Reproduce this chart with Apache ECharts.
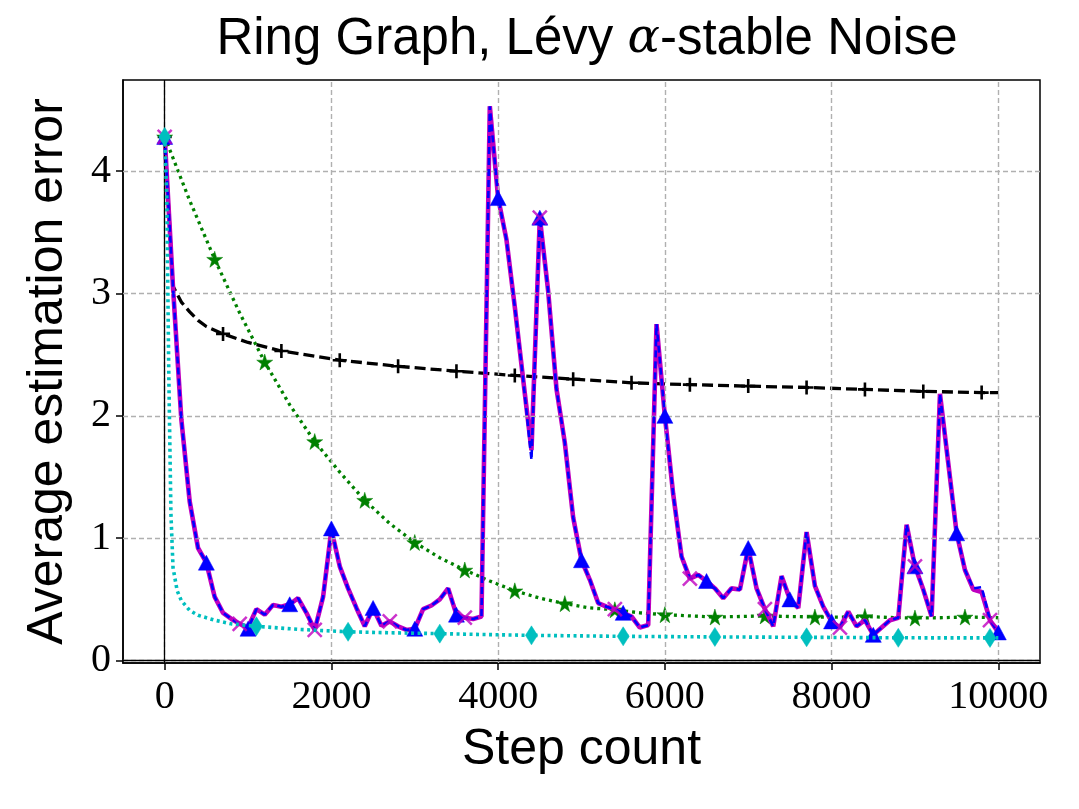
<!DOCTYPE html>
<html>
<head>
<meta charset="utf-8">
<script src="https://cdn.jsdelivr.net/npm/echarts@6/dist/echarts.min.js"></script>
<style>
html,body{margin:0;padding:0;background:#fff;}
#chart{width:1079px;height:809px;}
</style>
</head>
<body>
<div id="chart"></div>
<script>
// ---------- data ----------
const steps = [0,100,200,300,400,500,600,700,800,900,1000,1100,1200,1300,1400,1500,1600,1700,1800,1900,
2000,2100,2200,2300,2400,2500,2600,2700,2800,2900,3000,3100,3200,3300,3400,3500,3600,3700,3800,3900,
4000,4100,4200,4300,4400,4500,4600,4700,4800,4900,5000,5100,5200,5300,5400,5500,5600,5700,5800,5900,
6000,6100,6200,6300,6400,6500,6600,6700,6800,6900,7000,7100,7200,7300,7400,7500,7600,7700,7800,7900,
8000,8100,8200,8300,8400,8500,8600,8700,8800,8900,9000,9100,9200,9300,9400,9500,9600,9700,9800,9900,10000];

const blueVals = [4.28,3.05,1.97,1.30,0.92,0.80,0.52,0.39,0.34,0.30,
0.26,0.42,0.375,0.455,0.44,0.46,0.51,0.39,0.25,0.52,
1.08,0.77,0.59,0.43,0.28,0.43,0.285,0.32,0.28,0.25,
0.26,0.42,0.45,0.50,0.59,0.375,0.35,0.34,0.36,4.53,
3.78,3.44,2.89,2.30,1.64,3.62,3.02,2.22,1.78,1.17,
0.82,0.66,0.47,0.44,0.42,0.39,0.36,0.27,0.29,2.75,
2.00,1.36,0.85,0.67,0.70,0.65,0.59,0.51,0.59,0.58,
0.92,0.59,0.42,0.28,0.69,0.50,0.43,1.05,0.61,0.44,
0.32,0.27,0.40,0.28,0.33,0.21,0.27,0.33,0.35,1.11,
0.77,0.58,0.36,2.18,1.61,1.04,0.74,0.59,0.60,0.33,0.23];

const magentaVals = [4.28,3.05,1.97,1.30,0.92,0.80,0.52,0.39,0.34,0.30,
0.27,0.42,0.375,0.455,0.44,0.46,0.51,0.39,0.25,0.52,
1.07,0.77,0.59,0.43,0.28,0.43,0.285,0.32,0.28,0.25,
0.26,0.42,0.45,0.50,0.59,0.375,0.35,0.34,0.36,4.53,
3.78,3.44,2.89,2.30,1.72,3.62,3.02,2.22,1.78,1.17,
0.82,0.66,0.47,0.44,0.42,0.39,0.36,0.27,0.29,2.75,
2.00,1.36,0.85,0.67,0.70,0.65,0.59,0.51,0.59,0.58,
0.92,0.59,0.42,0.28,0.69,0.50,0.43,1.05,0.61,0.44,
0.32,0.27,0.40,0.28,0.33,0.21,0.27,0.33,0.35,1.11,
0.77,0.58,0.36,2.18,1.61,1.04,0.74,0.58,0.56,0.33,0.23];

const blackSteps = [0,100,200,300,400,500,600,700,1000,1400,2100,2800,3500,4200,4900,5600,6300,7000,7700,8400,9100,9800,10000];
const blackVals  = [4.28,3.06,2.93,2.85,2.78,2.73,2.70,2.67,2.60,2.53,2.455,2.405,2.365,2.33,2.30,2.27,2.255,2.243,2.232,2.216,2.20,2.19,2.19];

const greenSteps = [0,300,600,900,1200,1500,1800,2100,2400,2700,3000,3300,3600,3900,4200,4500,4800,5100,5400,5700,
6000,6300,6600,6900,7200,7500,7800,8100,8400,8700,9000,9300,9600,9900,10000];
const greenVals  = [4.28,3.76,3.28,2.84,2.44,2.09,1.79,1.54,1.31,1.12,0.965,0.84,0.74,0.65,0.57,0.51,0.465,0.43,0.415,0.39,
0.375,0.365,0.356,0.36,0.365,0.36,0.356,0.355,0.36,0.352,0.348,0.35,0.356,0.352,0.35];

const cyanSteps = [0,25,50,75,100,150,200,300,400,600,800,1100,1600,2200,2700,3300,3800,4400,5500,6600,7700,8800,9900,10000];
const cyanVals  = [4.28,3.8,2.3,1.2,0.76,0.57,0.49,0.41,0.37,0.33,0.30,0.28,0.255,0.235,0.227,0.22,0.213,0.206,0.198,0.193,0.19,0.186,0.185,0.185];

const xTicks = [0,2000,4000,6000,8000,10000];
const yTicks = [0,1,2,3,4];

// marker spacing (in steps)
const blueEvery = 500, magentaEvery = 900, blackEvery = 700, greenEvery = 600, cyanEvery = 1100;

// ---------- build ----------
function pairs(xs, ys){ return xs.map((x,i)=>[x, ys[i]]); }
const blueData = pairs(steps, blueVals);
const magentaData = pairs(steps, magentaVals);
const blackData = pairs(blackSteps, blackVals);
const greenData = pairs(greenSteps, greenVals);
const cyanData = pairs(cyanSteps, cyanVals);

function sym(every, name){
  return function(v){ return (Math.round(v[0]) % every === 0) ? name : 'none'; };
}

const STAR = 'path://M50,0L61,35L98,35L68,57L79,91L50,70L21,91L32,57L2,35L39,35Z';
const CROSS = 'path://M0,0L10,10M10,0L0,10';
const PLUS = 'path://M5,0L5,10M0,5L10,5';

const gridLineStyle = {color:'#b0b0b0', type:[5,3], width:1.4};

const chart = echarts.init(document.getElementById('chart'), null, {renderer:'canvas'});
chart.setOption({
  animation:false,
  backgroundColor:'#fff',
  title:{
    text:'Ring Graph, Lévy {a|α}-stable Noise',
    left:582, top:9, textAlign:'center',
    textStyle:{
      fontFamily:'Liberation Sans', fontSize:51, fontWeight:'normal', color:'#000',
      rich:{ a:{fontFamily:'DejaVu Serif', fontStyle:'italic', fontSize:48, color:'#000'} }
    }
  },
  grid:{left:123, right:39, top:80, bottom:146, show:true, borderColor:'#000', borderWidth:1.5, backgroundColor:'#fff'},
  xAxis:{
    type:'value', min:-500, max:10500,
    name:'Step count', nameLocation:'middle', nameGap:62,
    nameTextStyle:{fontFamily:'Liberation Sans', fontSize:50, color:'#000'},
    axisLine:{show:true, onZero:false, lineStyle:{color:'#000', width:1.5}},
    axisTick:{show:true, customValues:xTicks, length:7, lineStyle:{color:'#000', width:1.5}},
    axisLabel:{show:true, customValues:xTicks, margin:14, formatter:v=>String(v), fontFamily:'Liberation Serif', fontSize:40, color:'#000'},
    splitLine:{show:false}
  },
  yAxis:{
    type:'value', min:-0.02, max:4.745,
    name:'Average estimation error', nameLocation:'middle', nameGap:50,
    nameTextStyle:{fontFamily:'Liberation Sans', fontSize:50, color:'#000'},
    axisLine:{show:true, onZero:false, lineStyle:{color:'#000', width:1.5}},
    axisTick:{show:true, customValues:yTicks, length:7, lineStyle:{color:'#000', width:1.5}},
    axisLabel:{show:true, customValues:yTicks, margin:12, formatter:v=>String(v), fontFamily:'Liberation Serif', fontSize:40, color:'#000'},
    splitLine:{show:false}
  },
  series:[
    { // grid lines and zero lines
      type:'line', data:[], z:1, silent:true,
      markLine:{
        silent:true, symbol:'none', label:{show:false}, animation:false,
        data: xTicks.map(v=>({xAxis:v, lineStyle:gridLineStyle}))
          .concat(yTicks.map(v=>({yAxis:v, lineStyle:gridLineStyle})))
          .concat([{xAxis:0, lineStyle:{color:'#000', type:'solid', width:1.3}},
                   {yAxis:0, lineStyle:{color:'#000', type:'solid', width:1.3}}])
      }
    },
    {
      name:'black', type:'line', data:blackData, z:2,
      showAllSymbol:true, symbol:sym(blackEvery, PLUS), symbolSize:14,
      lineStyle:{color:'#000', width:3.3, type:[11,5]},
      itemStyle:{color:'#000', borderColor:'#000', borderWidth:2.6}
    },
    {
      name:'green', type:'line', data:greenData, z:3,
      showAllSymbol:true, symbol:sym(greenEvery, STAR), symbolSize:16,
      lineStyle:{color:'#008000', width:3.3, type:[3,4]},
      itemStyle:{color:'#008000', borderColor:'#008000', borderWidth:0.5}
    },
    {
      name:'magentaLine', type:'line', data:magentaData, z:4,
      symbol:'none',
      lineStyle:{color:'#bf00bf', width:4.6}
    },
    {
      name:'blue', type:'line', data:blueData, z:5,
      showAllSymbol:true, symbol:sym(blueEvery, 'triangle'), symbolSize:[16,15],
      lineStyle:{color:'#0000ff', width:2.6, type:[7,4]},
      itemStyle:{color:'#0000ff', borderColor:'#0000ff', borderWidth:0.5}
    },
    {
      name:'magentaMarks', type:'scatter', z:6,
      data: magentaData.filter(p => p[0] % magentaEvery === 0),
      symbol:CROSS, symbolSize:14,
      itemStyle:{color:'#bf00bf', borderColor:'#bf00bf', borderWidth:2.5}
    },
    {
      name:'cyan', type:'line', data:cyanData, z:7,
      showAllSymbol:true, symbol:sym(cyanEvery, 'diamond'), symbolSize:[12,19],
      lineStyle:{color:'#00bfbf', width:3.6, type:[3,3.5]},
      itemStyle:{color:'#00bfbf', borderColor:'#00bfbf', borderWidth:0.5}
    }
  ]
});
</script>
</body>
</html>
